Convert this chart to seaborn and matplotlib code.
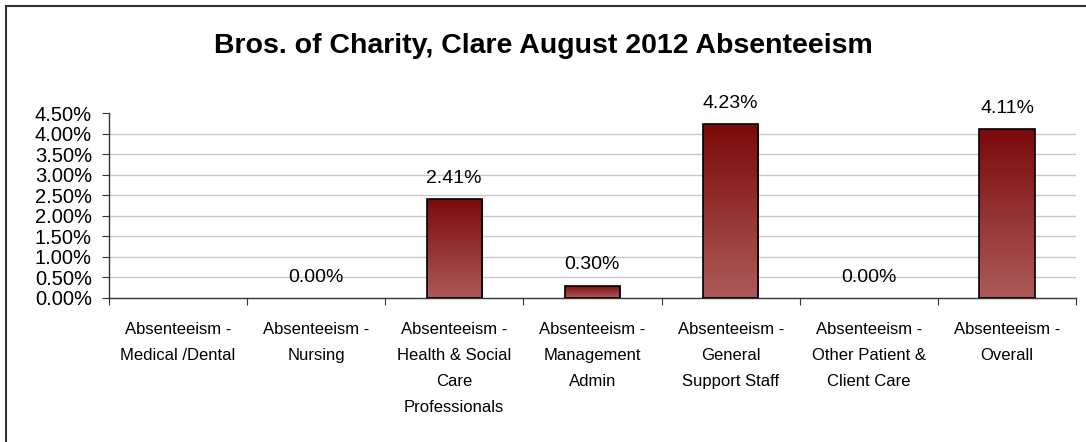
import numpy as np
import pandas as pd
import matplotlib
matplotlib.use("Agg")
import matplotlib.pyplot as plt
import seaborn as sns
from matplotlib.colors import LinearSegmentedColormap
from matplotlib.patches import Rectangle

categories = ["Absenteeism -\nMedical /Dental", "Absenteeism -\nNursing",
              "Absenteeism -\nHealth & Social\nCare\nProfessionals",
              "Absenteeism -\nManagement\nAdmin", "Absenteeism -\nGeneral\nSupport Staff",
              "Absenteeism -\nOther Patient &\nClient Care", "Absenteeism -\nOverall"]
values = [np.nan, 0.0, 2.41, 0.30, 4.23, 0.0, 4.11]
yticks = [0, 0.5, 1.0, 1.5, 2.0, 2.5, 3.0, 3.5, 4.0, 4.5]

df = pd.DataFrame({"cat": categories, "val": values})

sns.set_style("white")
plt.rcParams["font.family"] = ["Liberation Sans", "DejaVu Sans"]
plt.rcParams["text.color"] = "black"
plt.rcParams["xtick.color"] = "black"
plt.rcParams["ytick.color"] = "black"

fig = plt.figure(figsize=(10.86, 4.42), dpi=100)
ax = fig.add_axes([0.1, 0.326, 0.891, 0.418])

sns.barplot(data=df, x="cat", y="val", ax=ax, width=0.4, color="#9a3a3a",
            edgecolor="black", linewidth=1.2, zorder=3)

# gradient fill inside each bar
cmap = LinearSegmentedColormap.from_list("grad", ["#ad5a5a", "#7b0a0a"])
grad = np.linspace(0, 1, 256).reshape(-1, 1)
for p in ax.patches:
    h = p.get_height()
    if not np.isfinite(h) or h <= 0:
        p.set_linewidth(0)
        p.set_facecolor("none")
        continue
    x0 = p.get_x()
    im = ax.imshow(grad, cmap=cmap, aspect="auto", origin="lower",
                   extent=[x0, x0 + p.get_width(), 0, h], zorder=3.5)
    im.set_clip_path(p)
    p.set_facecolor("none")
    p.set_zorder(4)

ax.set_xlim(-0.5, len(categories) - 0.5)
ax.set_ylim(0, 4.5)
ax.set_yticks(yticks)
ax.set_yticklabels([f"{v:.2f}%" for v in yticks], fontsize=14.5)
for v in yticks[1:-1]:
    ax.axhline(v, color="#c8c8c8", lw=1, zorder=1)

# category boundary ticks, labels at centres
ax.set_xticks(np.arange(len(categories) + 1) - 0.5)
ax.set_xticklabels([])
ax.set_xticks(np.arange(len(categories)), minor=True)
ax.set_xticklabels(categories, minor=True, fontsize=12, linespacing=1.92, va="top")
ax.tick_params(axis="x", which="minor", length=0, pad=17)
ax.tick_params(axis="x", which="major", length=5, color="#333333", direction="out", bottom=True)
ax.tick_params(axis="y", length=5, color="#333333", direction="out", left=True, pad=7)
ax.set_xlabel("")
ax.set_ylabel("")

sns.despine(ax=ax, top=True, right=True)
for s in ["left", "bottom"]:
    ax.spines[s].set_color("#333333")
    ax.spines[s].set_linewidth(1)

for i, v in enumerate(values):
    if np.isfinite(v):
        ax.text(i, v + 0.3, f"{v:.2f}%", ha="center", va="bottom", fontsize=14)

fig.text(0.5, 0.895, "Bros. of Charity, Clare August 2012 Absenteeism",
         ha="center", va="center", fontsize=20.5, fontweight="bold")

fig.patches.append(Rectangle((6 / 1086, -0.1), 1.2, 1 - 6 / 442 + 0.1,
                             transform=fig.transFigure, fill=False,
                             edgecolor="#333333", lw=1.5))

fig.savefig("out.png", dpi=100)
